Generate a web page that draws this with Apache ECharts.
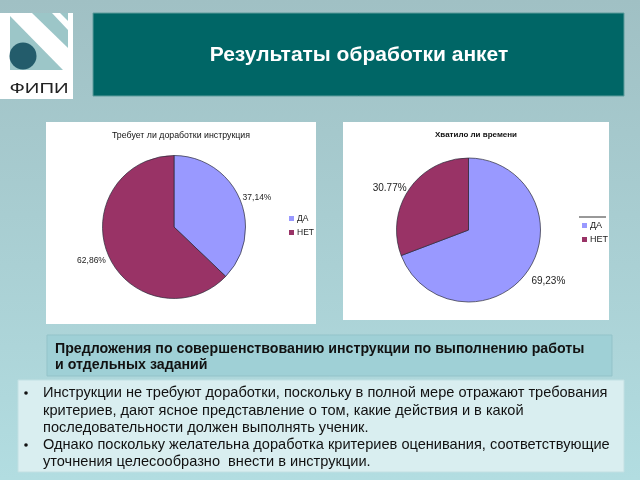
<!DOCTYPE html>
<html>
<head>
<meta charset="utf-8">
<style>html,body{margin:0;padding:0;background:#a8cfd3}#main{width:640px;height:480px}</style>
<script src="https://cdn.jsdelivr.net/npm/echarts@6/dist/echarts.min.js"></script>
</head>
<body>
<div id="main"></div>
<script>
var categories = ['ДА', 'НЕТ'];
var needsWorkValues = [37.14, 62.86];
var needsWorkLabels = ['37,14%', '62,86%'];
var enoughTimeValues = [69.23, 30.77];
var enoughTimeLabels = ['69,23%', '30.77%'];

var pageTitle = 'Результаты обработки анкет';
var needsWorkTitle = 'Требует ли доработки инструкция';
var enoughTimeTitle = 'Хватило ли времени';
var headingLines = [
    'Предложения по совершенствованию инструкции по выполнению работы',
    'и отдельных заданий'
];
var bodyLines = [
    'Инструкции не требуют доработки, поскольку в полной мере отражают требования',
    'критериев, дают ясное представление о том, какие действия и в какой',
    'последовательности должен выполнять ученик.',
    'Однако поскольку желательна доработка критериев оценивания, соответствующие',
    'уточнения целесообразно  внести в инструкции.'
];
var bodyLineY = [393, 411, 428, 445, 462];
var bulletLineY = [393, 445];

var FONT = '"Liberation Sans", Arial, sans-serif';
var COLORS = ['#9999ff', '#993366'];

function box(x, y, w, h, fill, stroke) {
    return {type: 'rect', shape: {x: x, y: y, width: w, height: h},
        style: {fill: fill, stroke: stroke || null, lineWidth: stroke ? 1 : 0}, silent: true};
}
function text(x, y, str, size, color, weight, align) {
    return {type: 'text', x: x, y: y, silent: true, style: {
        text: str, fill: color, font: (weight || 'normal') + ' ' + size + ' ' + FONT,
        textAlign: align || 'left', textVerticalAlign: 'middle'}};
}
function poly(points, fill) {
    return {type: 'polygon', shape: {points: points}, style: {fill: fill}, silent: true};
}

var logoText = text(39, 89, 'ФИПИ', '15px', '#222222', 'normal', 'center');
logoText.scaleX = 1.35;

var graphics = [
    {type: 'rect', shape: {x: 0, y: 0, width: 640, height: 480}, silent: true, style: {
        fill: new echarts.graphic.LinearGradient(0, 0, 0, 1, [
            {offset: 0, color: '#a0c0c4'}, {offset: 1, color: '#b2dde1'}])}},
    // logo
    box(0, 13, 73, 86, '#ffffff'),
    box(10, 13, 58, 57, '#9cc6c8'),
    poly([[10, 13], [32, 13], [68, 48], [68, 70], [63, 70], [10, 16]], '#ffffff'),
    poly([[52, 13], [60, 13], [68, 21], [68, 30]], '#ffffff'),
    {type: 'circle', shape: {cx: 23, cy: 56, r: 13.5}, style: {fill: '#235c6b'}, silent: true},
    logoText,
    // banner
    box(93, 13, 531, 83, '#006666', '#5f9c9c'),
    text(359, 55, pageTitle, '21px', '#ffffff', 'bold', 'center'),
    // chart panels
    box(46, 122, 270, 202, '#ffffff'),
    box(343, 122, 266, 198, '#ffffff'),
    {type: 'line', shape: {x1: 579, y1: 217, x2: 606, y2: 217}, style: {stroke: '#333333', lineWidth: 1}, silent: true},
    // heading
    box(47, 335, 565, 41, '#9fd0d6', '#93c3c9'),
    text(55, 349, headingLines[0], '14.2px', '#111111', 'bold'),
    text(55, 365, headingLines[1], '14.2px', '#111111', 'bold'),
    // body
    box(18, 380, 606, 92, '#d9eef0', '#c2e0e3')
];
bodyLines.forEach(function (line, i) {
    graphics.push(text(43, bodyLineY[i], line, '14.6px', '#111111'));
});
bulletLineY.forEach(function (y) {
    graphics.push({type: 'circle', shape: {cx: 26, cy: y, r: 1.8}, style: {fill: '#111111'}, silent: true});
});

function pieData(values) {
    return categories.map(function (name, i) {
        return {name: name, value: values[i], itemStyle: {color: COLORS[i]}};
    });
}
function pieSeries(center, radius, values, labels, labelSize, nudges) {
    return {
        type: 'pie',
        center: center,
        radius: radius,
        startAngle: 90,
        animation: false,
        silent: true,
        data: pieData(values),
        itemStyle: {borderColor: '#2a2a3a', borderWidth: 0.7},
        labelLine: {show: false, length: 2, length2: 1},
        labelLayout: function (p) {
            return {dx: nudges[p.dataIndex][0], dy: nudges[p.dataIndex][1]};
        },
        label: {
            position: 'outside',
            fontFamily: FONT,
            fontSize: labelSize,
            color: '#222222',
            formatter: function (p) { return labels[p.dataIndex]; }
        }
    };
}
function legend(left, top, size) {
    return {
        orient: 'vertical',
        left: left,
        top: top,
        padding: 0,
        data: categories,
        icon: 'rect',
        itemWidth: 5,
        itemHeight: 5,
        itemGap: 5,
        selectedMode: false,
        itemStyle: {borderWidth: 0},
        textStyle: {fontFamily: FONT, fontSize: size, color: '#222222', padding: [0, 0, 0, -2]}
    };
}

var chart = echarts.init(document.getElementById('main'), null, {renderer: 'canvas'});
chart.setOption({
    animation: false,
    graphic: {elements: graphics},
    title: [
        {text: needsWorkTitle, left: 181, top: 131, textAlign: 'center', padding: 0,
            textStyle: {fontFamily: FONT, fontSize: 8.8, fontWeight: 'normal', color: '#111111'}},
        {text: enoughTimeTitle, left: 476, top: 131, textAlign: 'center', padding: 0,
            textStyle: {fontFamily: FONT, fontSize: 8, fontWeight: 'bold', color: '#111111'}}
    ],
    legend: [legend(289, 214, 8.5), legend(582, 221, 9)],
    series: [
        pieSeries([174, 227], 71.5, needsWorkValues, needsWorkLabels, 8.5, [[-5, 0], [5.5, 5]]),
        pieSeries([468.5, 230], 72, enoughTimeValues, enoughTimeLabels, 10, [[-4, 9], [5, 0]])
    ]
});
</script>
</body>
</html>
